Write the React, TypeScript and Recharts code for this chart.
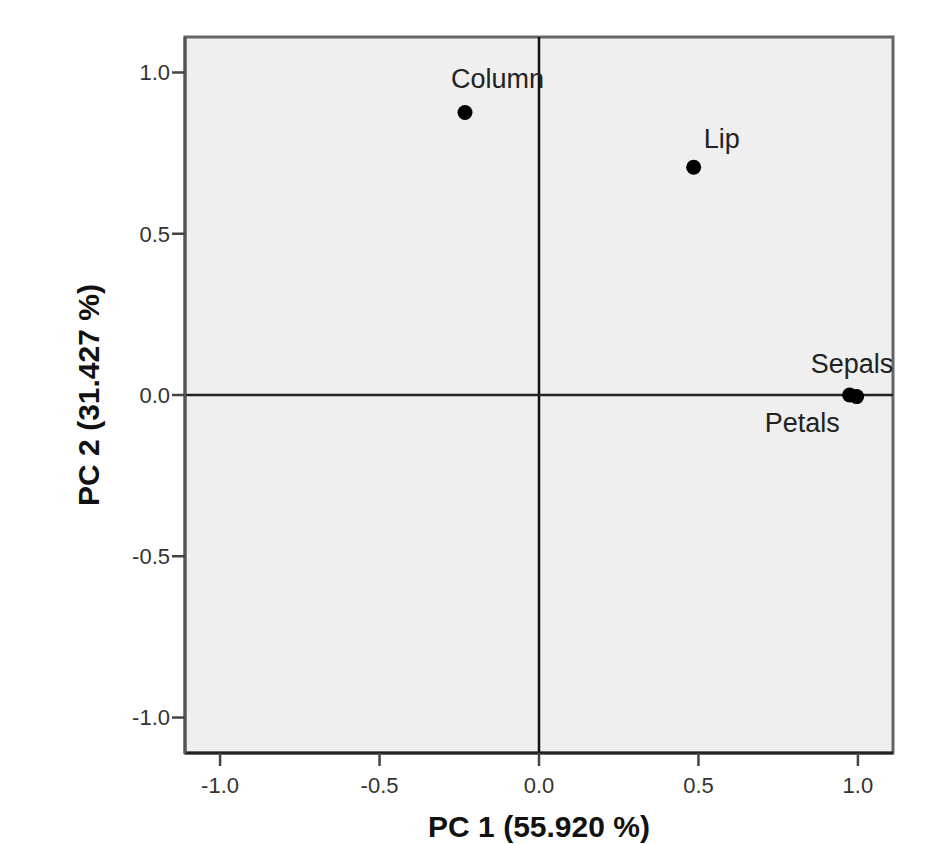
import React from 'react';
import {
  ScatterChart, Scatter, XAxis, YAxis, ReferenceLine, ReferenceArea,
  CartesianGrid, Label,
} from 'recharts';

// ── Data: component loadings ─────────────────────────────────────────────────
const variables = ['Column', 'Lip', 'Sepals', 'Petals'];
const pc1 = [-0.232, 0.485, 0.974, 0.996];
const pc2 = [0.876, 0.706, 0.0, -0.005];
const axisTicks = [-1.0, -0.5, 0.0, 0.5, 1.0];
const axisDomain = [-1.11, 1.11];
const xTitle = 'PC 1 (55.920 %)';
const yTitle = 'PC 2 (31.427 %)';

const points = variables.map((name, i) => ({ name, x: pc1[i], y: pc2[i] }));

// label placement relative to the marker (SPSS puts them by hand-ish)
const labelOffset: Record<string, [number, number]> = {
  Column: [-14, -24],
  Lip: [10, -19],
  Sepals: [-39, -22],
  Petals: [-92, 35],
};

const FONT = '"Liberation Sans", Arial, sans-serif';
const tickStyle = { fill: '#333', fontSize: 22, fontFamily: FONT };

const LoadingDot = ({ cx, cy, payload }: any) => {
  const [dx, dy] = labelOffset[payload.name] ?? [8, -8];
  return (
    <g>
      <circle cx={cx} cy={cy} r={7.5} fill="#000" />
      <text x={cx + dx} y={cy + dy} fontSize={27} fontFamily={FONT} fill="#222">
        {payload.name}
      </text>
    </g>
  );
};

const YTitle = ({ viewBox }: any) => {
  const cy = viewBox.y + viewBox.height / 2;
  return (
    <text
      x={99} y={cy}
      transform={`rotate(-90, 99, ${cy})`}
      textAnchor="middle"
      fontSize={30} fontWeight="bold" fontFamily={FONT} fill="#111"
    >
      {yTitle}
    </text>
  );
};

export default function App() {
  return (
    <div style={{ position: 'absolute', left: 0, top: 0, width: 942, height: 844, background: '#fff' }}>
      <ScatterChart width={942} height={844} margin={{ top: 37, right: 49, bottom: 0, left: 0 }}>
        <CartesianGrid fill="#efefef" horizontal={false} vertical={false} />
        <ReferenceArea
          x1={axisDomain[0]} x2={axisDomain[1]} y1={axisDomain[0]} y2={axisDomain[1]}
          fill="none" fillOpacity={0} stroke="#666" strokeWidth={3}
        />
        <XAxis
          type="number" dataKey="x" domain={axisDomain} ticks={axisTicks}
          allowDataOverflow height={91}
          tick={tickStyle} tickLine={{ stroke: '#444', strokeWidth: 2.5 }} tickSize={13} tickMargin={11}
          axisLine={{ stroke: '#222', strokeWidth: 3 }}
          tickFormatter={(v) => Number(v).toFixed(1)}
        >
          <Label value={xTitle} position="insideBottom" offset={7}
            style={{ fontSize: 30, fontWeight: 'bold', fontFamily: FONT, fill: '#111' }} />
        </XAxis>
        <YAxis
          type="number" dataKey="y" domain={axisDomain} ticks={axisTicks}
          allowDataOverflow width={185}
          tick={tickStyle} tickLine={{ stroke: '#444', strokeWidth: 2.5 }} tickSize={13} tickMargin={2}
          axisLine={{ stroke: '#555', strokeWidth: 3 }}
          tickFormatter={(v) => Number(v).toFixed(1)}
        >
          <Label content={<YTitle />} />
        </YAxis>
        <Scatter data={points} shape={<LoadingDot />} isAnimationActive={false} />
        <ReferenceLine x={0} stroke="#111" strokeWidth={2.5} />
        <ReferenceLine y={0} stroke="#222" strokeWidth={2.5} />
      </ScatterChart>
    </div>
  );
}
